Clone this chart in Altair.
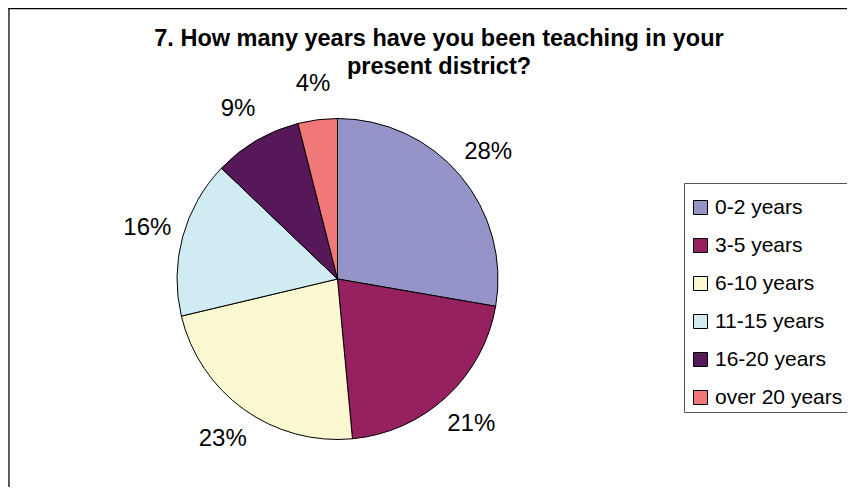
import altair as alt
import pandas as pd

categories = ["0-2 years", "3-5 years", "6-10 years", "11-15 years", "16-20 years", "over 20 years"]
percents = [28, 21, 23, 16, 9, 4]
labels = ["28%", "21%", "23%", "16%", "9%", "4%"]
colors = ["#9494C8", "#962060", "#FAF8D0", "#D0ECF2", "#561858", "#F07878"]
title_lines = ["7. How many years have you been teaching in your", "present district?"]

df = pd.DataFrame({
    "category": categories,
    "percent": percents,
    "label": labels,
    "order": list(range(len(categories))),
})

W, H = 839, 479
CX, CY, R = 329.5, 271, 160.5
FONT = "Liberation Sans"

base = alt.Chart(df).encode(
    theta=alt.Theta("percent:Q", stack=True),
    order=alt.Order("order:Q", sort="ascending"),
)

color = alt.Color(
    "category:N",
    scale=alt.Scale(domain=categories, range=colors),
    legend=alt.Legend(
        orient="none", legendX=672, legendY=179, title=None,
        symbolType="square", symbolSize=196, symbolStrokeColor="black",
        symbolStrokeWidth=1, symbolOpacity=1,
        labelFontSize=21, labelFont=FONT, labelColor="black",
        rowPadding=16, labelOffset=4, padding=10, labelLimit=300,
    ),
)

one = pd.DataFrame({"a": [0]})

legend_box = alt.Chart(one).mark_rect(fill="white", stroke="#555555", strokeWidth=1).encode(
    x=alt.value(676.5), x2=alt.value(W + 10), y=alt.value(175.5), y2=alt.value(404.5)
)

pie = base.mark_arc(outerRadius=R, stroke="black", strokeWidth=1).encode(
    color=color, x=alt.value(CX), y=alt.value(CY)
)

text = base.mark_text(radius=197, fontSize=24, font=FONT, color="black",
                      align="center", baseline="middle").encode(
    text="label:N", x=alt.value(CX), y=alt.value(CY)
)

t1 = alt.Chart(pd.DataFrame({"t": [title_lines[0]]})).mark_text(
    fontSize=23.5, fontWeight="bold", font=FONT, color="black",
    align="center", baseline="alphabetic"
).encode(text="t:N", x=alt.value(431), y=alt.value(38))
t2 = alt.Chart(pd.DataFrame({"t": [title_lines[1]]})).mark_text(
    fontSize=23.5, fontWeight="bold", font=FONT, color="black",
    align="center", baseline="alphabetic"
).encode(text="t:N", x=alt.value(431), y=alt.value(66))

left_rule = alt.Chart(one).mark_rule(color="black", strokeWidth=1.2).encode(
    x=alt.value(1), y=alt.value(0), y2=alt.value(H)
)
top_rule = alt.Chart(one).mark_rule(color="black", strokeWidth=1.2).encode(
    y=alt.value(0.6), x=alt.value(0), x2=alt.value(W)
)

chart = alt.layer(legend_box, pie, text, t1, t2, left_rule, top_rule).properties(
    width=W, height=H,
    autosize=alt.AutoSizeParams(type="none"),
    padding=0,
).configure_view(stroke=None).configure(background="white")

chart.save("out.html", embed_options={"renderer": "svg", "actions": False})
